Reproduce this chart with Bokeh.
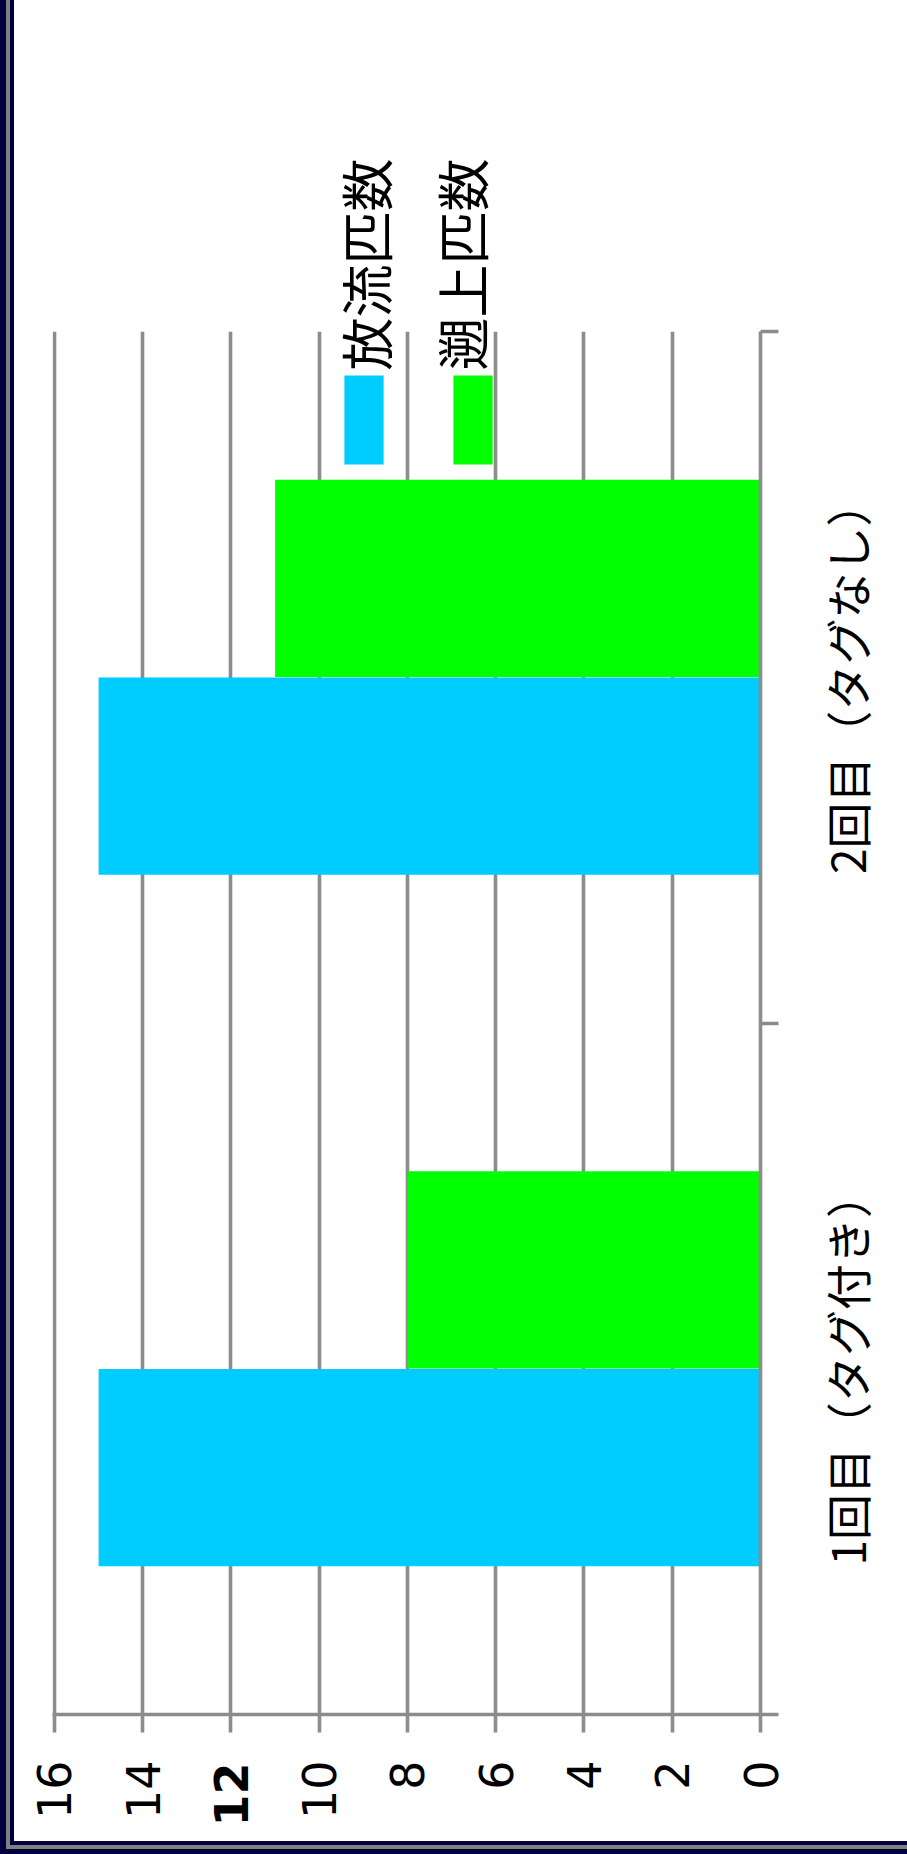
import math
from bokeh.plotting import figure
from bokeh.models import (ColumnDataSource, Range1d, FixedTicker, Legend, LegendItem)
from bokeh.core.properties import value
from bokeh.transform import dodge
from bokeh.embed import file_html
from bokeh.resources import INLINE

# ---- data ----
categories = ["1回目（タグ付き）", "2回目（タグなし）"]
series_names = ["放流匹数", "遡上匹数"]
released = [15, 15]
ascended = [8, 11]
value_ticks = [0, 2, 4, 6, 8, 10, 12, 14, 16]
series_colors = ["#00CCFF", "#00FF00"]

GRAY = "#8c8c8c"
NAVY = "#000040"
LW = 3.6

FRAME_W, FRAME_H = 708, 1383
X_MAX = 16.045  # a hair beyond 16 so the grid line at 16 is drawn

positions = [i + 0.5 for i in range(len(categories))]
source = ColumnDataSource(dict(pos=positions, cat=categories, released=released, ascended=ascended))

p = figure(width=893, height=1841, output_backend="svg", toolbar_location=None,
           x_range=Range1d(X_MAX, 0), y_range=Range1d(0, len(categories)),
           y_axis_location="right", x_axis_location="below",
           min_border_left=38, min_border_right=147, min_border_top=331, min_border_bottom=127)
p.extra_x_ranges = {"px": Range1d(0, FRAME_W)}
p.extra_y_ranges = {"px": Range1d(0, FRAME_H)}
p.styles = {"margin-left": "14px",
            "box-shadow": f"0 0 0 4px {NAVY}, 0 0 0 8px #808080, 0 0 0 14px {NAVY}"}
p.outline_line_color = None
p.background_fill_color = "white"
p.border_fill_color = "white"

bar_h = 0.285
off = 0.143
r1 = p.hbar(y=dodge("pos", -off, range=p.y_range), left=0, right="released", height=bar_h,
            source=source, fill_color=series_colors[0], line_color=None)
r2 = p.hbar(y=dodge("pos", off, range=p.y_range), left=0, right="ascended", height=bar_h,
            source=source, fill_color=series_colors[1], line_color=None)

# value axis (bottom)
xa = p.xaxis[0]
xa.ticker = FixedTicker(ticks=value_ticks)
xa.axis_line_color = GRAY
xa.axis_line_width = LW
xa.major_tick_line_color = GRAY
xa.major_tick_line_width = LW
xa.major_tick_out = 18
xa.major_tick_in = 0
xa.minor_tick_line_color = None
xa.major_label_orientation = math.pi / 2
xa.major_label_text_font = "DejaVu Sans"
xa.major_label_text_font_size = "46px"
xa.major_label_text_color = "black"
xa.major_label_standoff = 28
xa.major_label_overrides = {12: ""}

# category axis (right): ticks at category boundaries, labels drawn as text below
ya = p.yaxis[0]
ya.ticker = FixedTicker(ticks=positions, minor_ticks=list(range(len(categories) + 1)))
ya.major_label_overrides = {pos: "" for pos in positions}
ya.axis_line_color = GRAY
ya.axis_line_width = LW
ya.major_tick_line_color = None
ya.minor_tick_line_color = GRAY
ya.minor_tick_line_width = LW
ya.minor_tick_out = 18
ya.minor_tick_in = 0

p.xgrid.grid_line_color = GRAY
p.xgrid.grid_line_width = LW
p.xgrid.ticker = FixedTicker(ticks=value_ticks)
p.ygrid.grid_line_color = None

# category labels (rotated, centred on each category)
p.text(x=[793] * len(categories), y=positions, text=categories, x_range_name="px",
       angle=math.pi / 2, text_align="center", text_baseline="middle",
       text_font=value("Noto Sans CJK JP"), text_font_size="46px", text_color="black",
       level="overlay")

# bold "12" tick label
p.text(x=[12], y=[-48], text=["12"], y_range_name="px", angle=math.pi / 2,
       text_align="right", text_baseline="middle", text_font=value("DejaVu Sans"),
       text_font_size="46px", text_font_style="bold", text_color="black", level="overlay")

# legend swatches
legend = Legend(items=[LegendItem(label=series_names[0], renderers=[r1]),
                       LegendItem(label=series_names[1], renderers=[r2])],
                orientation="horizontal", location=(287, 1239),
                glyph_width=49, glyph_height=111, label_standoff=0, label_width=0, label_height=0,
                label_text_font_size="1px", label_text_alpha=0, spacing=56,
                padding=0, margin=0, border_line_color=None, background_fill_alpha=0)
p.add_layout(legend, "center")

# legend texts (rotated)
p.text(x=[312.5, 408.5], y=[1344, 1344], text=series_names, x_range_name="px", y_range_name="px",
       angle=math.pi / 2, text_align="left", text_baseline="middle",
       text_font=value("Noto Sans CJK JP"), text_font_size="53px", text_color="black",
       level="overlay")

open("out.html", "w").write(file_html(p, INLINE))
